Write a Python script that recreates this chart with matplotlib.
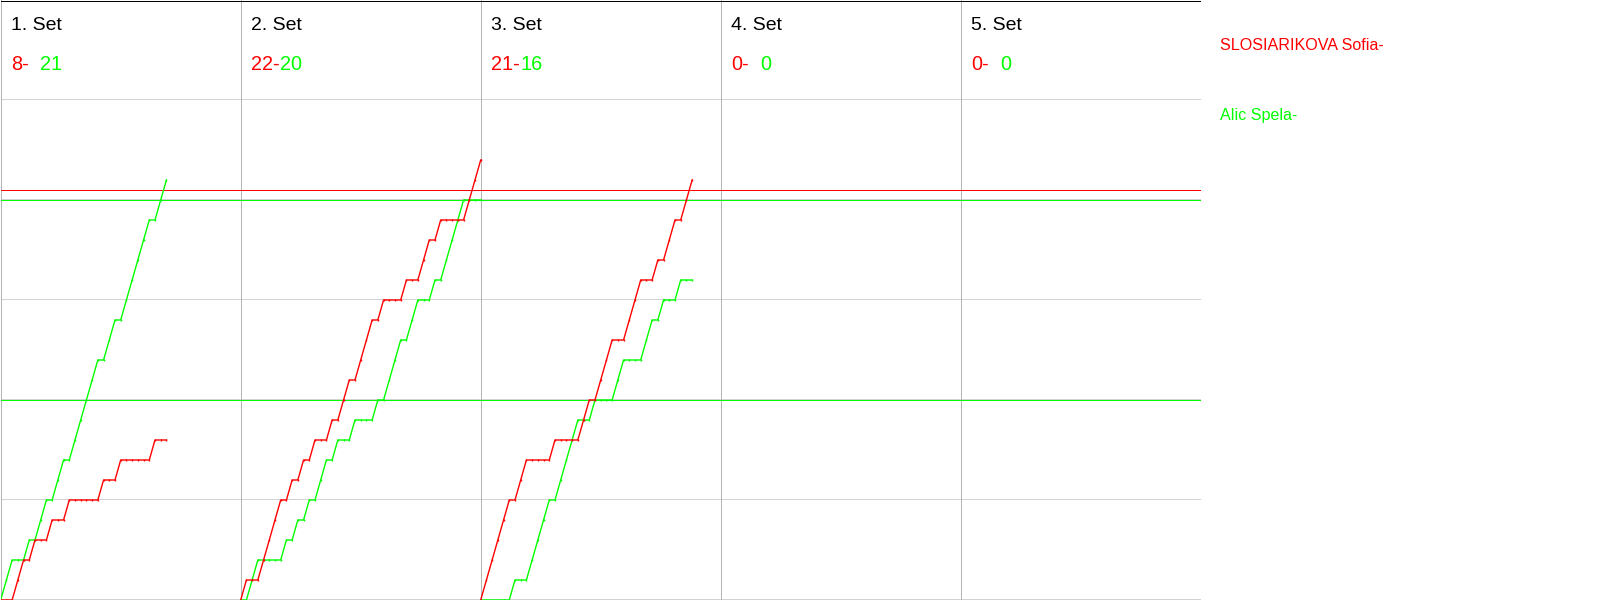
import matplotlib.pyplot as plt
import numpy as np

# rally by rally winner of each set, R = red player, G = green player
set_labels = ['1. Set', '2. Set', '3. Set', '4. Set', '5. Set']
rallies = [
    'GGRRGRGGRGGRGGGGGRGGRGGGGGRGG',
    'RGGRRRRGRGRGRGGRGRRGRRRGRGGGRGGRRGRGGGGRRR',
    'RRRRRGRRGGGGRGGGGRRGRRRGGRRRGGRGRRGRR',
    '',
    '',
]
red_scores = [8, 22, 21, 0, 0]
green_scores = [21, 20, 16, 0, 0]
red_name = 'SLOSIARIKOVA Sofia-'
green_name = 'Alic Spela-'
red_marks = [20.5]
green_marks = [20, 10]

RED = '#ff0000'
GREEN = '#00ff00'
slots = 42  # rallies per set panel
n_sets = len(set_labels)
px = 0.72  # one pixel in points at dpi 100

plt.rcParams['font.family'] = ['Liberation Sans', 'DejaVu Sans']
fig = plt.figure(figsize=(16, 6), dpi=100)
ax = fig.add_axes([0.7 / 1600, 0, 1200 / 1600, 1])
ax.set_xlim(0, slots * n_sets)
ax.set_ylim(0, 30)
ax.axis('off')

# grid
for y in range(0, 30, 5):
    ax.axhline(y + 0.03, color='#d2d2d2', lw=px, zorder=1, antialiased=False)
for i in range(n_sets + 1):
    ax.axvline(i * slots, color='#b4b4b4', lw=px, zorder=1, antialiased=False)
ax.axhline(30 - 0.03, color='black', lw=px, zorder=1, antialiased=False)

for y in red_marks:
    ax.axhline(y, color=RED, lw=px, zorder=2, antialiased=False)
for y in green_marks:
    ax.axhline(y, color=GREEN, lw=px, zorder=2, antialiased=False)

for i, seq in enumerate(rallies):
    x0 = i * slots
    ax.text(x0 + 1.8, 28.5, set_labels[i], fontsize=14, color='black', va='baseline')
    ax.text(x0 + 1.8, 26.5, '%d-' % red_scores[i], fontsize=14.3, color=RED, va='baseline')
    ax.text(x0 + 6.95, 26.5, '%d' % green_scores[i], fontsize=14.3, color=GREEN, va='baseline')
    if not seq:
        continue
    won = np.array(list(seq))
    x = x0 + np.arange(len(won) + 1)
    red_y = np.concatenate([[0], np.cumsum(won == 'R')])
    green_y = np.concatenate([[0], np.cumsum(won == 'G')])
    ax.plot(x, green_y, color=GREEN, lw=1, marker='|', ms=2, mew=1, zorder=3)
    ax.plot(x, red_y, color=RED, lw=1, marker='|', ms=2, mew=1, zorder=3)

fig.text(1220 / 1600, 1 - 50 / 600, red_name, fontsize=11.6, color=RED, va='baseline')
fig.text(1220 / 1600, 1 - 120 / 600, green_name, fontsize=11.6, color=GREEN, va='baseline')

fig.savefig('out.png', dpi=100, facecolor='white')
